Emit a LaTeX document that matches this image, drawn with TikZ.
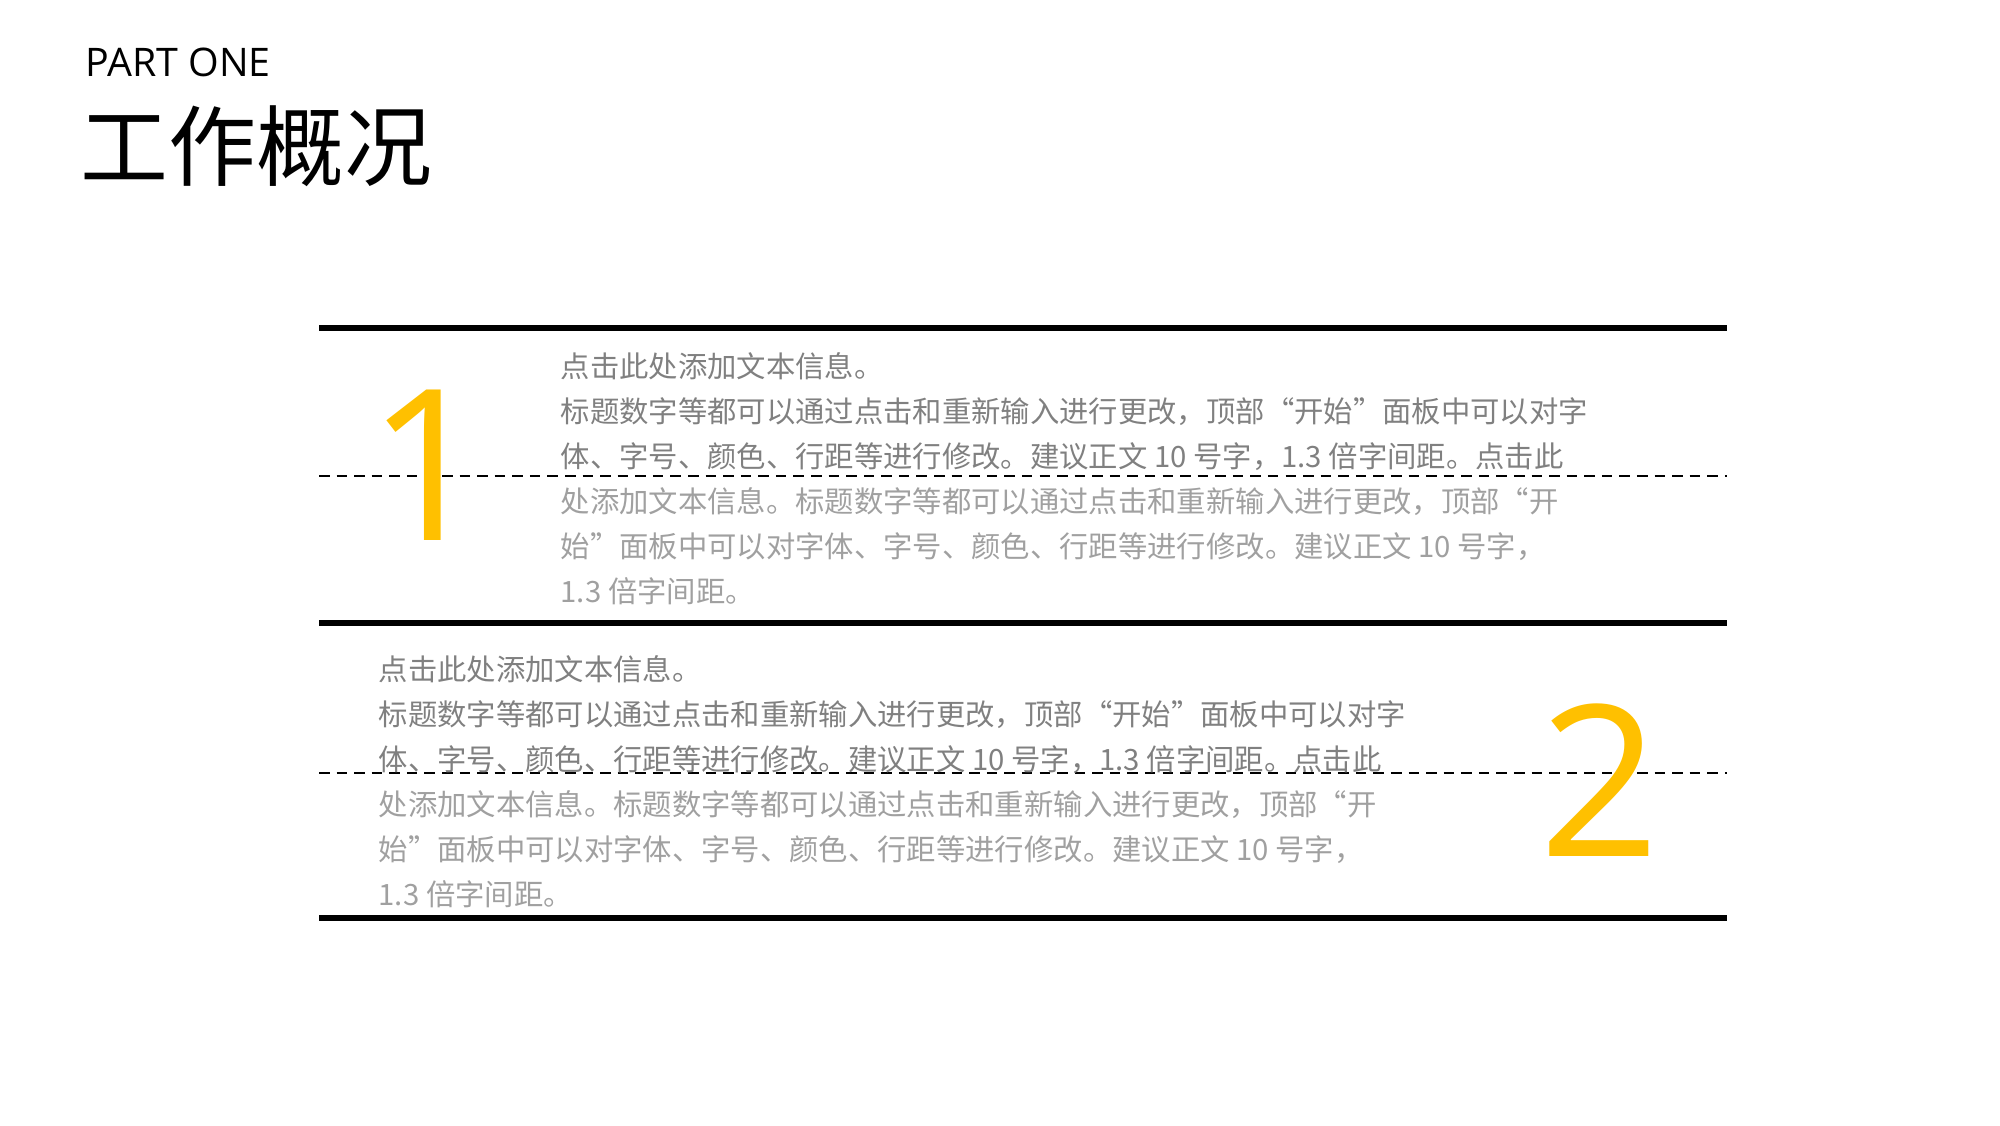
\documentclass[tikz,border=0pt]{standalone}
\usepackage{fontspec}
\setmainfont{Open Sans}
\newfontfamily\cjk{Noto Sans CJK SC}
\usetikzlibrary{positioning}
\definecolor{accent}{HTML}{FFC000}
\definecolor{darkgrey}{HTML}{808080}
\definecolor{lightgrey}{HTML}{A0A0A0}
\begin{document}
\begin{tikzpicture}[
    rule/.style={line width=1.6pt, black},
    guide/.style={line width=0.8pt, dash pattern=on 3pt off 2pt, black},
    bignum/.style={text=accent, font=\fontsize{60}{60}\selectfont, inner sep=0pt},
    line/.style={anchor=base west, inner sep=0pt, font=\cjk\fontsize{8.35}{8.35}\selectfont},
    darkline/.style={line, text=darkgrey},
    lightline/.style={line, text=lightgrey}
]
        \useasboundingbox (0,0) rectangle (20,11.25);
        \node[anchor=base west, inner sep=0pt, font=\fontsize{11.2}{11.2}\selectfont] (part) at (0.85,10.48) {PART ONE};
        \node[anchor=base west, inner sep=0pt, font=\cjk\fontsize{25}{25}\selectfont] (title) at (0.8,9.45) {工作概况};

        \coordinate (r1l) at (3.19,7.97); \coordinate (r1r) at (17.27,7.97);
        \coordinate (d1l) at (3.19,6.49); \coordinate (d1r) at (17.27,6.49);
        \coordinate (r2l) at (3.19,5.02); \coordinate (r2r) at (17.27,5.02);
        \coordinate (d2l) at (3.19,3.52); \coordinate (d2r) at (17.27,3.52);
        \coordinate (r3l) at (3.19,2.07); \coordinate (r3r) at (17.27,2.07);

        \draw[rule] (r1l) -- (r1r);
        \draw[guide] (d1l) -- (d1r);
        \draw[rule] (r2l) -- (r2r);
        \draw[guide] (d2l) -- (d2r);
        \draw[rule] (r3l) -- (r3r);

        \node[bignum] (one) at (4.28,6.6) {1};
        \node[bignum] (two) at (16.0,3.45) {2};

        % first block
        \node[darkline] (a1) at (5.6,7.47) {点击此处添加文本信息。};
        \node[darkline, below=0.45 of a1.base west, anchor=base west] (a2) {标题数字等都可以通过点击和重新输入进行更改，顶部“开始”面板中可以对字};
        \node[darkline, below=0.45 of a2.base west, anchor=base west] (a3) {体、字号、颜色、行距等进行修改。建议正文 10 号字，1.3 倍字间距。点击此};
        \node[lightline, below=0.45 of a3.base west, anchor=base west] (a4) {处添加文本信息。标题数字等都可以通过点击和重新输入进行更改，顶部“开};
        \node[lightline, below=0.45 of a4.base west, anchor=base west] (a5) {始”面板中可以对字体、字号、颜色、行距等进行修改。建议正文 10 号字，};
        \node[lightline, below=0.45 of a5.base west, anchor=base west] (a6) {1.3 倍字间距。};

        % second block
        \node[darkline] (b1) at (3.78,4.45) {点击此处添加文本信息。};
        \node[darkline, below=0.45 of b1.base west, anchor=base west] (b2) {标题数字等都可以通过点击和重新输入进行更改，顶部“开始”面板中可以对字};
        \node[darkline, below=0.45 of b2.base west, anchor=base west] (b3) {体、字号、颜色、行距等进行修改。建议正文 10 号字，1.3 倍字间距。点击此};
        \node[lightline, below=0.45 of b3.base west, anchor=base west] (b4) {处添加文本信息。标题数字等都可以通过点击和重新输入进行更改，顶部“开};
        \node[lightline, below=0.45 of b4.base west, anchor=base west] (b5) {始”面板中可以对字体、字号、颜色、行距等进行修改。建议正文 10 号字，};
        \node[lightline, below=0.45 of b5.base west, anchor=base west] (b6) {1.3 倍字间距。};
\end{tikzpicture}
\end{document}
